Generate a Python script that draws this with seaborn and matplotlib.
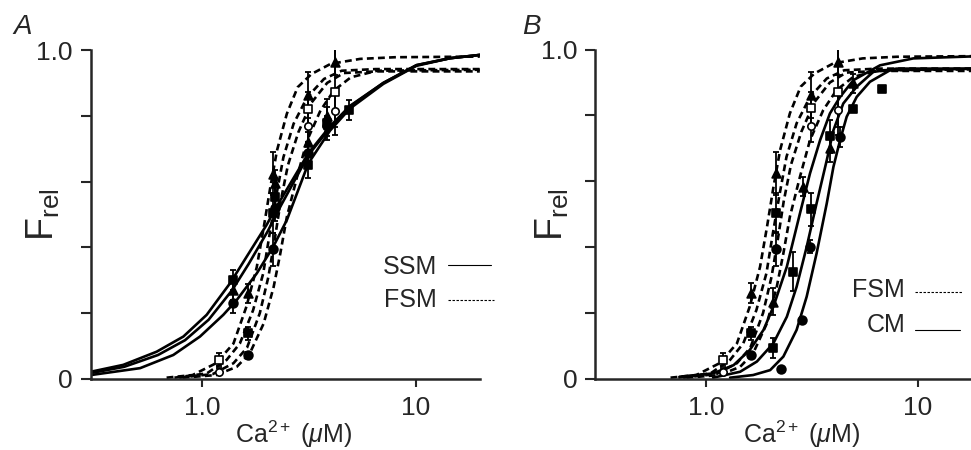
import matplotlib
matplotlib.use('Agg')
import matplotlib.pyplot as plt
import seaborn as sns
import numpy as np
from matplotlib.lines import Line2D
from matplotlib.ticker import NullLocator

# ---- fitted curves (Ca in uM, relative force) ----
# FSM (dashed), drawn in both panels
fsm_t_x = [0.68, 0.90, 1.16, 1.40, 1.61, 1.80, 1.94, 2.08, 2.24, 2.49, 2.80, 3.25, 4.0, 5.5, 8.0, 20]
fsm_t_f = [0.004, 0.012, 0.048, 0.108, 0.22, 0.34, 0.46, 0.58, 0.695, 0.806, 0.887, 0.927, 0.958, 0.973, 0.978, 0.98]
fsm_s_x = [0.74, 1.05, 1.30, 1.50, 1.73, 1.93, 2.07, 2.23, 2.40, 2.68, 3.10, 3.72, 4.50, 6.5, 20]
fsm_s_f = [0.004, 0.017, 0.058, 0.108, 0.209, 0.321, 0.442, 0.563, 0.674, 0.776, 0.856, 0.912, 0.937, 0.942, 0.942]
fsm_m_x = [0.78, 1.12, 1.40, 1.62, 1.86, 2.04, 2.18, 2.33, 2.52, 2.82, 3.25, 3.85, 4.6, 6.6, 20]
fsm_m_f = [0.004, 0.015, 0.048, 0.095, 0.20, 0.31, 0.42, 0.54, 0.65, 0.75, 0.84, 0.90, 0.93, 0.935, 0.935]
fsm_c_x = [0.81, 1.16, 1.45, 1.67, 1.94, 2.16, 2.32, 2.49, 2.78, 3.10, 3.58, 4.14, 4.97, 6.6, 20]
fsm_c_f = [0.004, 0.012, 0.037, 0.078, 0.169, 0.28, 0.381, 0.492, 0.614, 0.725, 0.816, 0.877, 0.917, 0.937, 0.94]

# SSM (solid, panel A)
ssm1_x = [0.3, 0.426, 0.611, 0.815, 1.048, 1.349, 1.615, 2.0, 2.23, 3.14, 3.97, 4.92, 7.06, 10.1, 14.5, 20]
ssm1_f = [0.022, 0.043, 0.083, 0.129, 0.195, 0.291, 0.372, 0.468, 0.524, 0.686, 0.768, 0.83, 0.9, 0.954, 0.975, 0.985]
ssm2_x = [0.3, 0.43, 0.62, 0.83, 1.07, 1.38, 1.65, 2.03, 2.26, 3.14, 3.97, 4.92, 7.06, 10.1, 14.5, 20]
ssm2_f = [0.018, 0.037, 0.073, 0.118, 0.18, 0.27, 0.35, 0.45, 0.51, 0.68, 0.764, 0.828, 0.9, 0.954, 0.975, 0.985]
ssm3_x = [0.3, 0.511, 0.731, 0.975, 1.254, 1.45, 1.80, 2.15, 2.49, 3.14, 3.97, 4.92, 7.06, 10.1, 14.5, 20]
ssm3_f = [0.012, 0.033, 0.073, 0.129, 0.195, 0.24, 0.321, 0.402, 0.483, 0.655, 0.755, 0.822, 0.897, 0.952, 0.975, 0.985]

# CM (solid, panel B)
cm1_x = [0.75, 1.08, 1.35, 1.61, 1.87, 2.08, 2.41, 2.78, 3.10, 3.46, 3.85, 4.30, 4.97, 6.64, 9.54, 20]
cm1_f = [0.007, 0.017, 0.042, 0.088, 0.149, 0.219, 0.341, 0.503, 0.624, 0.725, 0.806, 0.856, 0.907, 0.952, 0.973, 0.98]
cm2_x = [1.08, 1.45, 1.74, 2.08, 2.41, 2.68, 2.99, 3.33, 3.72, 4.0, 4.45, 5.15, 6.17, 7.96, 20]
cm2_f = [0.004, 0.022, 0.053, 0.108, 0.189, 0.28, 0.401, 0.533, 0.664, 0.755, 0.836, 0.887, 0.932, 0.942, 0.942]
cm3_x = [1.30, 1.67, 2.01, 2.32, 2.68, 2.99, 3.33, 3.72, 4.0, 4.30, 4.62, 5.15, 5.95, 7.40, 20]
cm3_f = [0.004, 0.012, 0.027, 0.068, 0.149, 0.25, 0.381, 0.533, 0.644, 0.725, 0.796, 0.856, 0.902, 0.937, 0.942]

# ---- measured points (mean, sem) ----
fsm_tri_x = [1.64, 2.14, 3.13, 4.2]
fsm_tri_f = [0.26, 0.624, 0.862, 0.963]
fsm_tri_e = [0.03, 0.065, 0.07, 0.04]
fsm_sq_x = [1.64, 2.14]
fsm_sq_f = [0.139, 0.505]
fsm_sq_e = [0.02, 0.06]
fsm_ci_x = [1.64, 2.14]
fsm_ci_f = [0.073, 0.394]
fsm_ci_e = [0.01, 0.05]
fsm_osq_x = [1.2, 3.13, 4.2]
fsm_osq_f = [0.058, 0.822, 0.872]
fsm_osq_e = [0.02, 0.05, 0.13]
fsm_oci_x = [1.2, 3.13, 4.2]
fsm_oci_f = [0.022, 0.769, 0.816]
fsm_oci_e = [0.01, 0.05, 0.05]

ssm_ci_x = [1.4, 2.2, 3.14, 3.85]
ssm_ci_f = [0.23, 0.52, 0.686, 0.77]
ssm_ci_e = [0.03, 0.04, 0.03, 0.03]
ssm_tri_x = [1.4, 2.2, 3.14, 3.85]
ssm_tri_f = [0.27, 0.595, 0.72, 0.80]
ssm_tri_e = [0.03, 0.04, 0.03, 0.05]
ssm_sq_x = [1.4, 2.2, 3.14, 3.85, 4.87]
ssm_sq_f = [0.30, 0.554, 0.65, 0.777, 0.818]
ssm_sq_e = [0.03, 0.05, 0.04, 0.05, 0.03]

cm_tri_x = [2.08, 2.86, 3.85, 4.93]
cm_tri_f = [0.235, 0.584, 0.70, 0.897]
cm_tri_e = [0.04, 0.03, 0.04, 0.03]
cm_sq_x = [2.08, 2.58, 3.13, 3.85, 4.96, 6.8]
cm_sq_f = [0.093, 0.326, 0.515, 0.737, 0.818, 0.879]
cm_sq_e = [0.03, 0.06, 0.05, 0.05, 0.0, 0.0]
cm_ci_x = [2.26, 2.83, 3.11, 4.29]
cm_ci_f = [0.03, 0.179, 0.402, 0.735]
cm_ci_e = [0.0, 0.01, 0.02, 0.03]

sns.set_style('ticks')
plt.rcParams['font.family'] = ['Liberation Sans', 'DejaVu Sans']
plt.rcParams['mathtext.fontset'] = 'custom'
plt.rcParams['mathtext.rm'] = 'Liberation Sans'
plt.rcParams['mathtext.it'] = 'Liberation Sans:italic'

W, H = 971, 450
fig = plt.figure(figsize=(W / 100, H / 100), dpi=100)


def box(x0, x1, y0, y1):
    return [x0 / W, 1 - y1 / H, (x1 - x0) / W, (y1 - y0) / H]


axA = fig.add_axes(box(90.8, 479.8, 50, 379))
axB = fig.add_axes(box(595.3, 981.4, 49.5, 379))

DASH = (0, (2.6, 1.6))


def curve(ax, xs, fs, dashed):
    sns.lineplot(x=xs, y=fs, ax=ax, color='black', lw=1.9, sort=False, estimator=None,
                 linestyle=DASH if dashed else '-', zorder=2)


def points(ax, xs, fs, es, marker, filled=True, size=40):
    ax.errorbar(xs, fs, yerr=es, fmt='none', ecolor='black', elinewidth=1.3,
                capsize=2.5, capthick=1.3, zorder=3)
    sns.scatterplot(x=xs, y=fs, ax=ax, marker=marker, s=size,
                    color='black' if filled else 'white', edgecolor='black',
                    linewidth=1.2, zorder=4)


fsm_curves = [(fsm_t_x, fsm_t_f), (fsm_s_x, fsm_s_f), (fsm_m_x, fsm_m_f), (fsm_c_x, fsm_c_f)]


def fsm_points(ax):
    points(ax, fsm_tri_x, fsm_tri_f, fsm_tri_e, '^')
    points(ax, fsm_sq_x, fsm_sq_f, fsm_sq_e, 's')
    points(ax, fsm_ci_x, fsm_ci_f, fsm_ci_e, 'o')
    points(ax, fsm_osq_x, fsm_osq_f, fsm_osq_e, 's', filled=False, size=28)
    points(ax, fsm_oci_x, fsm_oci_f, fsm_oci_e, 'o', filled=False, size=28)


# panel A
for xs, fs in [(ssm1_x, ssm1_f), (ssm2_x, ssm2_f), (ssm3_x, ssm3_f)]:
    curve(axA, xs, fs, False)
for xs, fs in fsm_curves:
    curve(axA, xs, fs, True)
fsm_points(axA)
points(axA, ssm_ci_x, ssm_ci_f, ssm_ci_e, 'o')
points(axA, ssm_tri_x, ssm_tri_f, ssm_tri_e, '^')
points(axA, ssm_sq_x, ssm_sq_f, ssm_sq_e, 's')

# panel B
for xs, fs in fsm_curves:
    curve(axB, xs, fs, True)
for xs, fs in [(cm1_x, cm1_f), (cm2_x, cm2_f), (cm3_x, cm3_f)]:
    curve(axB, xs, fs, False)
fsm_points(axB)
points(axB, cm_tri_x, cm_tri_f, cm_tri_e, '^')
points(axB, cm_sq_x, cm_sq_f, cm_sq_e, 's')
points(axB, cm_ci_x, cm_ci_f, cm_ci_e, 'o')

for ax in (axA, axB):
    ax.set_xscale('log')
    ax.set_xlim(0.3, 20)
    ax.set_ylim(0, 1.0)
    ax.set_xticks([1, 10])
    ax.set_xticklabels(['1.0', '10'])
    ax.xaxis.set_minor_locator(NullLocator())
    ax.set_yticks([0, 0.2, 0.4, 0.6, 0.8, 1.0])
    ax.set_yticklabels(['0', '', '', '', '', '1.0'])
    ax.set_xlabel('')
    ax.set_ylabel('')
    for side in ('top', 'right'):
        ax.spines[side].set_visible(False)
    for side in ('left', 'bottom'):
        ax.spines[side].set_linewidth(1.8)
    ax.tick_params(axis='y', direction='out', length=7, width=1.5, labelsize=19, pad=6)
    ax.tick_params(axis='x', direction='out', length=6, width=1.5, labelsize=19, pad=6)
    ax.patch.set_alpha(0)


def ftxt(x, y, s, **kw):
    fig.text(x / W, 1 - y / H, s, **kw)


def fline(x0, x1, y, dashed):
    fig.add_artist(Line2D([x0 / W, x1 / W], [1 - y / H] * 2, transform=fig.transFigure,
                          color='black', lw=0.8, linestyle=(0, (2.2, 1.4)) if dashed else '-'))


# panel letters, axis labels
ftxt(23, 27, 'A', fontsize=20, style='italic', ha='center', va='center')
ftxt(531, 27, 'B', fontsize=20, style='italic', ha='center', va='center')
for xc in (294, 802):
    ftxt(xc, 434, r'$\mathrm{Ca}^{\mathrm{2+}}$ ($\mathit{\mu}$M)', fontsize=18, ha='center', va='center')
for xc in (43, 552):
    ftxt(xc, 215, r'F$_{\mathrm{rel}}$', fontsize=27, rotation=90, ha='center', va='center')

# legends
ftxt(437, 267, 'SSM', fontsize=18, ha='right', va='center')
fline(448, 491, 265, False)
ftxt(437, 300, 'FSM', fontsize=18, ha='right', va='center')
fline(448, 494, 300, True)
ftxt(905, 290, 'FSM', fontsize=18, ha='right', va='center')
fline(915, 963, 292, True)
ftxt(905, 325, 'CM', fontsize=18, ha='right', va='center')
fline(915, 960, 330, False)

fig.savefig('out.png', dpi=100)
